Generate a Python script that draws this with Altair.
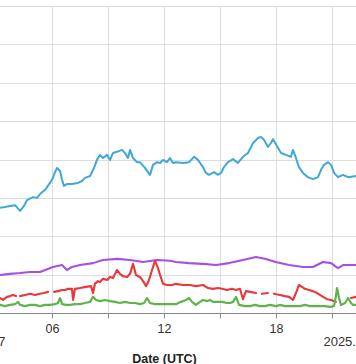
import altair as alt
import pandas as pd

# ---- data (hours of the day, UTC) ----
NAMES = ["Series A", "Series B", "Series C", "Series D"]
COLORS = ["#41a8d6", "#a54fe6", "#e8383a", "#5fb34c"]
WIDTHS = [2.0, 2.2, 1.6, 1.8]

A_T = [3.05, 3.21, 3.48, 3.75, 4.02, 4.29, 4.50, 4.66, 4.98, 5.20, 5.36, 5.63, 5.89, 6.05, 6.16, 6.27,
       6.43, 6.54, 6.64, 6.80, 7.07, 7.39, 7.61, 7.77, 8.04, 8.25, 8.41, 8.57, 8.73, 8.95, 9.11, 9.27,
       9.48, 9.75, 9.91, 10.07, 10.18, 10.34, 10.55, 10.71, 10.98, 11.14, 11.25, 11.41, 11.63, 11.79,
       11.95, 12.16, 12.32, 12.48, 12.64, 13.02, 13.34, 13.61, 13.82, 14.09, 14.25, 14.41, 14.68, 14.89,
       15.05, 15.21, 15.43, 15.70, 15.96, 16.23, 16.50, 16.77, 17.04, 17.20, 17.36, 17.57, 17.73, 17.84,
       18.11, 18.27, 18.54, 18.80, 18.91, 19.07, 19.23, 19.45, 19.71, 19.98, 20.25, 20.41, 20.57, 20.79,
       20.95, 21.11, 21.32, 21.59, 21.86, 22.29, 22.50]
A_V = [27.4, 27.4, 27.6, 27.9, 28.1, 26.6, 27.9, 29.4, 30.2, 30.0, 31.0, 32.1, 33.9, 35.2, 36.7, 37.8,
       37.0, 34.7, 33.1, 33.6, 33.6, 33.9, 34.4, 35.2, 35.7, 37.8, 39.9, 41.2, 40.4, 41.2, 39.9, 41.7,
       42.0, 42.5, 41.7, 40.4, 42.5, 40.4, 39.3, 39.3, 37.8, 36.7, 36.0, 38.6, 39.3, 39.1, 39.9, 39.3,
       40.4, 39.1, 39.3, 39.1, 39.3, 40.7, 39.9, 38.0, 36.5, 36.0, 36.7, 36.0, 36.5, 38.0, 39.3, 40.1,
       39.1, 40.7, 41.7, 44.3, 45.6, 45.9, 45.1, 43.3, 44.3, 45.3, 43.0, 41.7, 41.2, 40.7, 42.5, 40.4,
       38.0, 36.5, 35.4, 34.9, 35.4, 37.3, 38.6, 39.3, 38.6, 36.5, 35.4, 36.0, 35.4, 35.7, 35.4]

B_T = [3.05, 3.21, 3.75, 4.29, 4.82, 5.36, 6.05, 6.54, 6.80, 7.07, 7.50, 8.20, 8.73, 9.48, 10.18, 10.88,
       11.63, 12.32, 12.64, 13.34, 14.09, 14.79, 15.48, 16.23, 16.93, 17.46, 17.98, 18.70, 19.45, 19.98,
       20.52, 20.95, 21.32, 21.59, 22.29, 22.50]
B_V = [9.9, 9.9, 10.2, 10.4, 10.7, 10.7, 12.0, 12.5, 11.2, 12.0, 12.5, 13.0, 13.8, 14.1, 13.8, 13.3,
       13.8, 13.6, 13.3, 13.0, 12.8, 12.5, 13.0, 13.8, 14.6, 14.1, 13.3, 12.5, 12.0, 12.0,
       13.3, 13.0, 11.7, 12.5, 12.5, 12.5]

# None marks a gap in the series
C_T = [3.05, 3.21, 3.38, 3.59, 3.75, 3.91, 4.07, 4.15,
       4.29, 4.55, 4.82, 5.09, 5.36, 5.57, 5.79, 5.95,
       6.11, 6.32, 6.54, 6.70, 6.86, 7.07, 7.13, 7.23, 7.50, 7.82, 8.09, 8.20, 8.30, 8.46, 8.57, 8.73,
       8.95, 9.11, 9.27, 9.38, 9.48, 9.64, 9.80, 10.02, 10.18, 10.34, 10.50, 10.71, 10.88, 11.04, 11.20,
       11.36, 11.52, 11.68, 11.79, 11.95, 12.16, 12.43, 12.64, 13.02, 13.39, 13.71, 14.09, 14.36, 14.63,
       14.89, 15.11, 15.38, 15.64, 15.86, 16.07, 16.23, 16.39, 16.61, 16.93, 17.10,
       17.25, 17.57, 17.73,
       17.89, 18.21, 18.48, 18.70, 18.91, 19.07, 19.23, 19.39, 19.55, 19.77, 19.98, 20.20, 20.46, 20.73,
       20.95, 21.21, 21.60,
       22.02, 22.29, 22.50]
C_V = [3.9, 3.9, 3.4, 4.2, 4.4, 4.7, 4.4, None,
       4.4, 4.7, 5.0, 4.7, 5.0, 5.2, 5.5, None,
       5.5, 5.7, 6.0, 6.0, 6.3, 6.3, 3.4, 6.3, 6.5, 6.8, 7.0, 5.2, 7.6, 8.3, 8.1, 8.9,
       8.6, 9.4, 9.1, 10.2, 11.2, 10.2, 9.6, 9.4, 10.2, 12.8, 9.9, 9.4, 8.3, 7.0, 8.6,
       11.2, 13.6, 11.7, 9.9, 7.6, 7.3, 7.3, 7.6, 7.3, 7.3, 7.0, 7.3, 6.5, 6.3,
       6.5, 6.3, 6.0, 6.3, 6.0, 6.3, 3.6, 5.7, 5.5, 5.2, None,
       5.0, 5.2, None,
       5.0, 4.7, 4.4, 4.2, 3.4, 5.2, 7.3, 6.8, 6.3, 6.0, 5.7, 5.2, 4.4, 3.6,
       3.4, 2.9, None,
       3.9, 4.2, 4.2]

D_T = [3.05, 3.21, 3.48, 3.75, 4.02, 4.18, 4.29, 4.55, 4.82, 5.09, 5.36, 5.63, 5.89, 6.16, 6.32, 6.43,
       6.54, 6.75, 6.96, 7.23, 7.50, 7.77, 8.04, 8.20, 8.36, 8.57, 8.84, 9.11, 9.38, 9.64, 9.91, 10.18,
       10.45, 10.71, 10.93, 11.09, 11.25, 11.52, 11.79, 12.05, 12.32, 12.64, 12.91, 13.18, 13.34, 13.50,
       13.71, 13.93, 14.09, 14.30, 14.46, 14.63, 14.89, 15.11, 15.38, 15.54, 15.70, 15.86, 16.02, 16.34,
       16.61, 16.88, 17.14, 17.41, 17.68, 18.00, 18.21, 18.48, 18.75, 19.02, 19.29, 19.55, 19.82, 20.09,
       20.36, 20.63, 20.89, 21.11, 21.21, 21.27, 21.38, 21.48, 21.70, 21.86, 22.02, 22.13, 22.29, 22.50]
D_V = [2.1, 2.1, 1.8, 2.1, 2.3, 2.9, 2.1, 1.8, 2.1, 2.1, 1.8, 2.1, 2.1, 2.3, 2.6, 3.9,
       2.3, 2.1, 2.1, 2.3, 2.3, 2.6, 2.9, 4.2, 3.4, 3.1, 3.4, 3.1, 2.9, 2.6, 2.9, 2.6,
       2.6, 2.3, 2.6, 3.9, 2.6, 2.3, 2.3, 2.3, 2.3, 2.3, 2.9, 3.4, 3.9, 2.9,
       2.1, 2.9, 3.4, 3.1, 3.4, 2.9, 2.9, 2.9, 2.6, 2.6, 2.9, 4.2, 2.1, 1.8,
       1.8, 2.1, 1.8, 1.8, 2.1, 1.8, 2.1, 1.8, 1.8, 1.8, 1.8, 2.1, 1.8, 1.8,
       1.8, 1.8, 1.6, 1.8, 4.4, 6.5, 3.9, 2.1, 2.6, 3.9, 2.6, 2.1, 2.1, 2.1]

HOUR_TICKS = [3, 6, 9, 12, 15, 18, 21]
HOUR_LABELS = ["", "06", "", "12", "", "18", ""]
DATE_TICKS = [0, 24]
DATE_LABELS = ["2024.12.27", "2025.01.01"]
Y_TICKS = [0, 10, 20, 30, 40, 50, 60, 70, 80]

# ---- table ----
rows = []
for name, T, V in zip(NAMES, [A_T, B_T, C_T, D_T], [A_V, B_V, C_V, D_V]):
    seg = 0
    for t, v in zip(T, V):
        if v is None:
            seg += 1
            continue
        rows.append({"series": name, "seg": f"{name}-{seg}", "hour": t, "value": v})
df = pd.DataFrame(rows)

FONT = "Liberation Sans"


def expr(ticks, labels):
    parts = [f"datum.value == {t} ? '{l}'" for t, l in zip(ticks, labels)]
    return " : ".join(parts) + " : ''"


xscale = alt.Scale(domain=[0, 24], nice=False, zero=False)
yenc = alt.Y(
    "value:Q",
    scale=alt.Scale(domain=[0, 80], nice=False),
    axis=alt.Axis(values=Y_TICKS, labels=False, ticks=False, domain=False, title=None,
                  gridColor="#dddddd"),
)

axis1 = alt.Axis(
    orient="bottom", values=HOUR_TICKS, labelExpr=expr(HOUR_TICKS, HOUR_LABELS), title=None,
    grid=True, gridColor="#dddddd", domainColor="#888888", tickColor="#888888", tickSize=5,
    labelPadding=4, labelFontSize=12.5, labelFont=FONT, labelColor="#333333",
)
axis2 = alt.Axis(
    orient="bottom", values=DATE_TICKS, labelExpr=expr(DATE_TICKS, DATE_LABELS), labelFlush=True,
    grid=False, domain=False, tickSize=0, labelPadding=22, labelFontSize=13, labelFont=FONT,
    labelColor="#333333", title="Date (UTC)", titleFont=FONT, titleFontSize=12.5,
    titleFontWeight="bold", titleColor="#222222", titlePadding=4,
)

lines = alt.Chart(df).mark_line(strokeJoin="round", strokeCap="round").encode(
    x=alt.X("hour:Q", scale=xscale, axis=axis1),
    y=yenc,
    color=alt.Color("series:N", scale=alt.Scale(domain=NAMES, range=COLORS), legend=None),
    strokeWidth=alt.StrokeWidth("series:N", scale=alt.Scale(domain=NAMES, range=WIDTHS), legend=None),
    detail="seg:N",
)

axis_layer = alt.Chart(df).mark_point(opacity=0, size=1).encode(
    x=alt.X("hour:Q", scale=xscale, axis=axis2),
    y=yenc,
)

chart = (
    alt.layer(lines, axis_layer)
    .resolve_axis(x="independent")
    .properties(
        width=448,
        height=307,
        autosize=alt.AutoSizeParams(type="none"),
        padding={"left": -60, "top": 6, "right": -32, "bottom": 51},
        background="white",
    )
    .configure_view(stroke="#dddddd")
)

chart.save("out.html", embed_options={"renderer": "svg", "actions": False})
